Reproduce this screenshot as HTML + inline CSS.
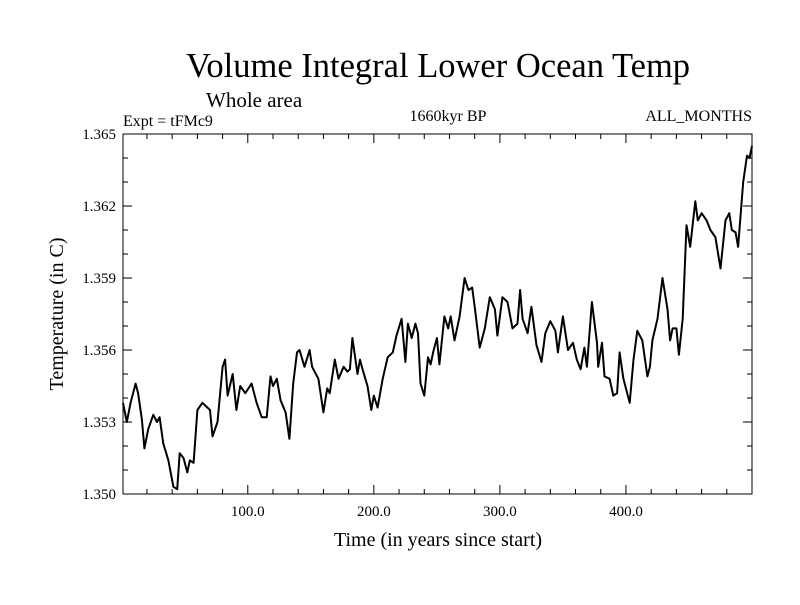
<!DOCTYPE html>
<html><head><meta charset="utf-8"><style>
body{margin:0;background:#fff}
svg text{font-family:"Liberation Serif",serif;fill:#000}
</style></head><body>
<svg id="chart" width="800" height="600" xmlns="http://www.w3.org/2000/svg">
<rect width="800" height="600" fill="#fff"/>
<text x="438" y="77" font-size="34.5" text-anchor="middle">Volume Integral Lower Ocean Temp</text>
<text x="206" y="107" font-size="21">Whole area</text>
<text x="123" y="126" font-size="16">Expt = tFMc9</text>
<text x="448" y="121" font-size="16" text-anchor="middle">1660kyr BP</text>
<text x="752" y="121" font-size="16" text-anchor="end">ALL_MONTHS</text>
<text transform="translate(63,314) rotate(-90)" font-size="20" text-anchor="middle">Temperature (in C)</text>
<text x="438" y="546" font-size="20" text-anchor="middle">Time (in years since start)</text>
<g id="axes"></g>
<path id="series" fill="none" stroke="#000" stroke-width="2" stroke-linejoin="round"/>
<rect x="123" y="134" width="629" height="360" fill="none" stroke="#000" stroke-width="1"/>
</svg>
<script>
const years=[1,4,7,11,13,16,18,21,25,28,30,33,37,41,44,46,49,52,54,57,60,64,70,72,76,80,82,84,88,91,94,98,103,107,111,115,118,120,123,126,130,133,136,139,141,145,149,151,156,160,163,165,169,172,176,179,181,183,187,189,191,195,198,200,203,207,211,215,218,222,225,227,230,233,235,237,240,243,245,247,250,252,256,259,261,264,268,272,275,278,280,284,288,292,296,298,302,306,310,314,316,318,322,325,329,333,336,340,344,346,350,354,358,361,364,367,369,373,377,378,381,383,387,390,393,395,398,403,406,409,413,417,419,421,425,429,433,435,437,440,442,445,448,451,455,457,460,464,467,471,475,479,482,484,487,489,493,496,498,500];
const temps=[1.3538,1.3530,1.3538,1.3546,1.3542,1.3531,1.3519,1.3527,1.3533,1.3530,1.3532,1.3521,1.3514,1.3503,1.3502,1.3517,1.3515,1.3509,1.3514,1.3513,1.3535,1.3538,1.3535,1.3524,1.3530,1.3553,1.3556,1.3541,1.3550,1.3535,1.3545,1.3542,1.3546,1.3538,1.3532,1.3532,1.3549,1.3545,1.3548,1.3539,1.3534,1.3523,1.3546,1.3559,1.3560,1.3553,1.3560,1.3553,1.3548,1.3534,1.3544,1.3542,1.3556,1.3548,1.3553,1.3551,1.3552,1.3565,1.3550,1.3556,1.3552,1.3545,1.3535,1.3541,1.3536,1.3548,1.3557,1.3559,1.3566,1.3573,1.3555,1.3571,1.3565,1.3571,1.3567,1.3546,1.3541,1.3557,1.3554,1.3559,1.3565,1.3554,1.3574,1.3569,1.3574,1.3564,1.3574,1.3590,1.3585,1.3586,1.3578,1.3561,1.3569,1.3582,1.3577,1.3566,1.3582,1.3580,1.3569,1.3571,1.3585,1.3573,1.3567,1.3578,1.3562,1.3555,1.3567,1.3572,1.3568,1.3559,1.3574,1.3560,1.3563,1.3556,1.3552,1.3561,1.3553,1.3580,1.3563,1.3553,1.3563,1.3549,1.3548,1.3541,1.3542,1.3559,1.3548,1.3538,1.3556,1.3568,1.3564,1.3549,1.3553,1.3564,1.3573,1.3590,1.3577,1.3564,1.3569,1.3569,1.3558,1.3573,1.3612,1.3603,1.3622,1.3614,1.3617,1.3614,1.3610,1.3607,1.3594,1.3614,1.3617,1.3610,1.3609,1.3603,1.3630,1.3641,1.3640,1.3645];
const xMajor=[100,200,300,400];
const xMajorLabels=["100.0","200.0","300.0","400.0"];
const yMajor=[1.350,1.353,1.356,1.359,1.362,1.365];
const yMajorLabels=["1.350","1.353","1.356","1.359","1.362","1.365"];
const X0=123,X1=752,Y0=494,Y1=134;
function sx(v){return X0+(v-1)/(500-1)*(X1-X0);}
function sy(v){return Y0-(v-1.350)/(0.015)*(Y0-Y1);}
const NS="http://www.w3.org/2000/svg";
const axes=document.getElementById('axes');
function line(x1,y1,x2,y2){const l=document.createElementNS(NS,'line');l.setAttribute('x1',x1);l.setAttribute('y1',y1);l.setAttribute('x2',x2);l.setAttribute('y2',y2);l.setAttribute('stroke','#000');l.setAttribute('stroke-width','1');


axes.appendChild(l);}
function txt(x,y,s,anchor){const t=document.createElementNS(NS,'text');t.setAttribute('x',x);t.setAttribute('y',y);t.setAttribute('font-size','15');t.setAttribute('text-anchor',anchor);t.textContent=s;


axes.appendChild(t);}
for(let v=20;v<500;v+=20){const x=sx(v);const big=v%100===0;const L=big?9:5;line(x,Y0,x,Y0-L);line(x,Y1,x,Y1+L);}
xMajor.forEach((v,i)=>txt(sx(v),Y0+22,xMajorLabels[i],'middle'));
for(let k=0;k<=15;k++){const v=1.350+k*0.001;const y=sy(v);const big=k%3===0;const L=big?9:5;line(X0,y,X0+L,y);line(X1,y,X1-L,y);}
yMajor.forEach((v,i)=>txt(X0-7,sy(v)+5,yMajorLabels[i],'end'));
document.getElementById('series').setAttribute('d',years.map((y,i)=>(i?'L':'M')+sx(y).toFixed(1)+','+sy(temps[i]).toFixed(1)).join(''));
</script>
</body></html>
